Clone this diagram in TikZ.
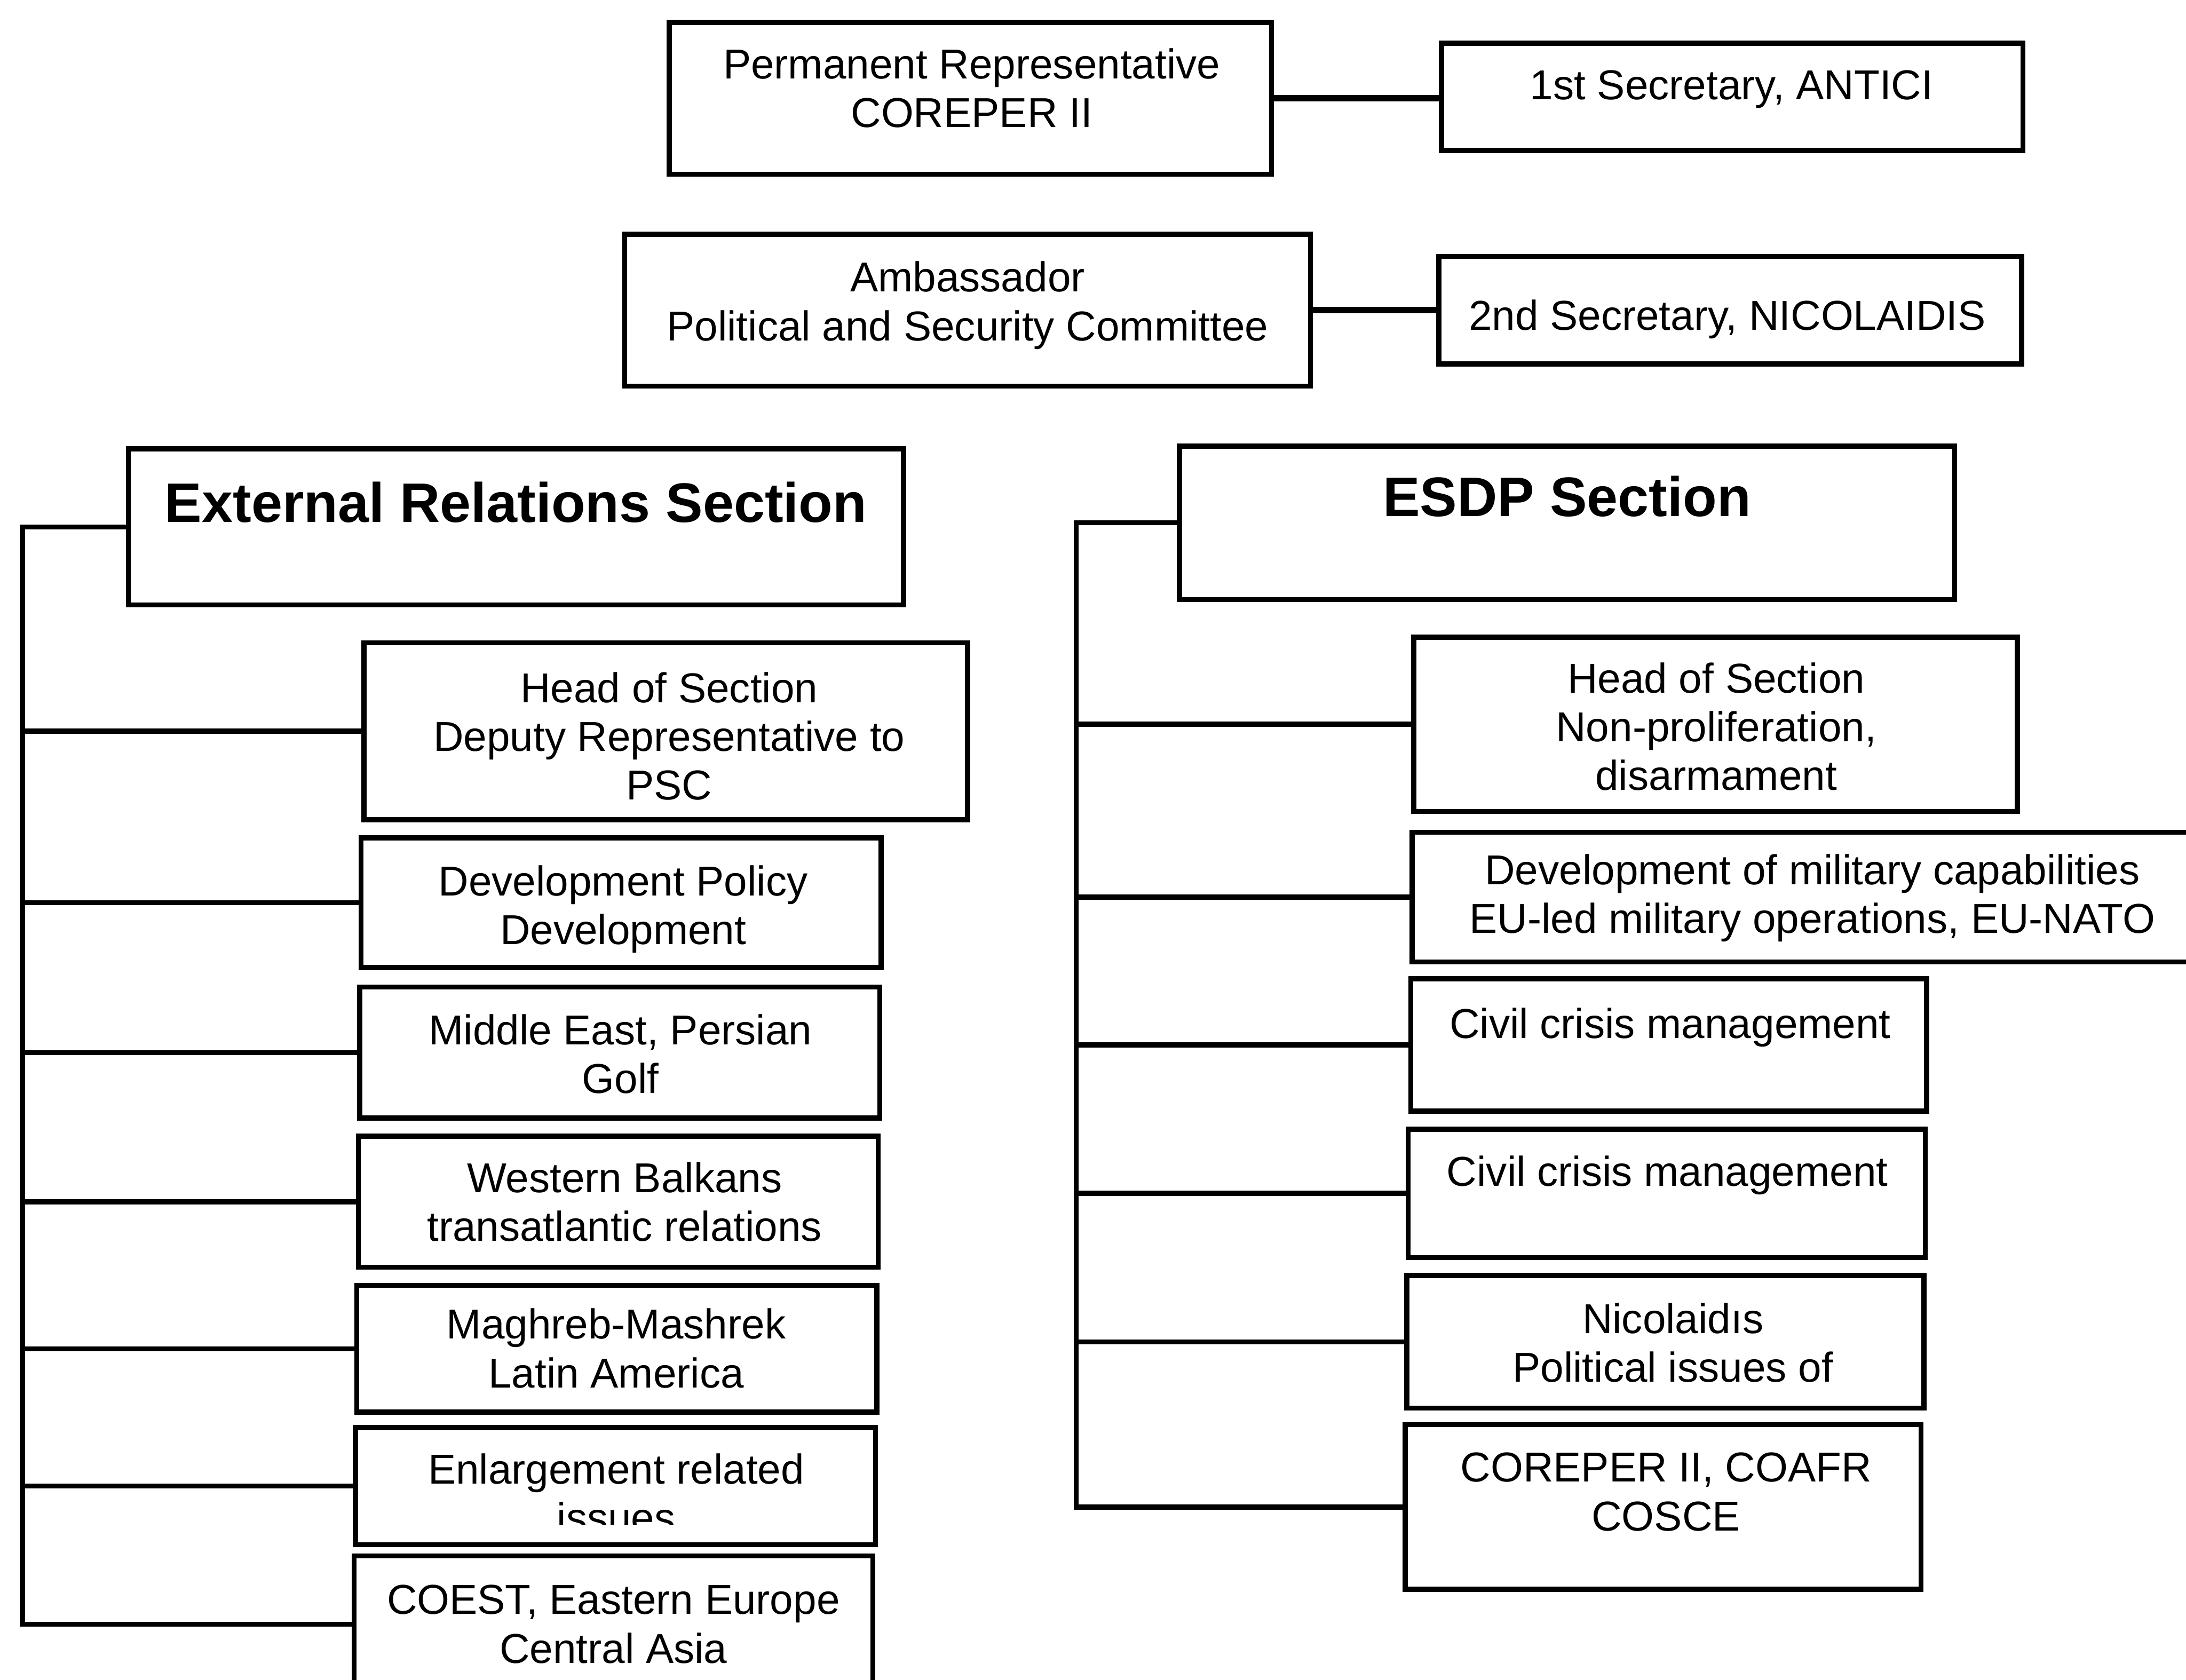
\documentclass[tikz,border=0pt]{standalone}
\usepackage{fontspec}
\setmainfont{Liberation Sans}
\usetikzlibrary{fit}
\begin{document}
\begin{tikzpicture}[x=0.2615mm,y=-0.2615mm,
  box/.style={draw, line width=0.95mm, inner sep=0pt, rectangle},
  txt/.style={align=center, inner sep=0pt, text depth=0pt, font=\fontsize{22.3}{26}\selectfont},
  head/.style={align=center, inner sep=0pt, text depth=0pt, font=\fontsize{29.7}{34}\selectfont\bfseries},
  conn/.style={line width=0.95mm, line cap=rect},
  topconn/.style={line width=1.2mm}]
\path[use as bounding box] (0,0) rectangle (1568,1205);
\clip (0,0) rectangle (1568,1205);

% top boxes
\node[box, fit={(480,16) (912,125)}] (pr) {};
\node[txt] (prt) at (697,63) {Permanent Representative\\COREPER II};
\node[box, fit={(1034,31) (1451,108)}] (s1) {};
\node[txt] (s1t) at (1242,61) {1st Secretary, ANTICI};
\node[box, fit={(448,168) (940,277)}] (amb) {};
\node[txt] (ambt) at (694,216) {Ambassador\\Political and Security Committee};
\node[box, fit={(1032,184) (1450,261)}] (s2) {};
\node[txt] (s2t) at (1239,226) {2nd Secretary, NICOLAIDIS};

% section heads
\node[box, fit={(92,322) (648,434)}] (ers) {};
\node[head] (erst) at (370,360) {External Relations Section};
\node[box, fit={(846,320) (1402,430)}] (esdp) {};
\node[head] (esdpt) at (1124,356) {ESDP Section};

% left column
\node[box, fit={(261,461) (694,588)}] (er1) {};
\node[txt] (er1t) at (480,528) {Head of Section\\Deputy Representative to\\PSC};
\node[box, fit={(259,601) (632,694)}] (er2) {};
\node[txt] (er2t) at (447,649) {Development Policy\\Development};
\node[box, fit={(258,708) (631,802)}] (er3) {};
\node[txt] (er3t) at (445,756) {Middle East, Persian\\Golf};
\node[box, fit={(257,815) (630,909)}] (er4) {};
\node[txt] (er4t) at (448,862) {Western Balkans\\transatlantic relations};
\node[box, fit={(256,922) (629,1013)}] (er5) {};
\node[txt] (er5t) at (442,967) {Maghreb-Mashrek\\Latin America};
\begin{scope}
\clip (255,1024) rectangle (628,1094);
\node[txt] (er6t) at (442,1071) {Enlargement related\\issues};
\end{scope}
\node[box, fit={(255,1024) (628,1108)}] (er6) {};
\node[box, fit={(254,1116) (626,1214)}] (er7) {};
\node[txt] (er7t) at (440,1165) {COEST, Eastern Europe\\Central Asia};

% right column
\node[box, fit={(1014,457) (1447,582)}] (es1) {};
\node[txt] (es1t) at (1231,521) {Head of Section\\Non-proliferation,\\disarmament};
\node[box, fit={(1013,597) (1580,690)}] (es2) {};
\node[txt] (es2t) at (1300,641) {Development of military capabilities\\EU-led military operations, EU-NATO};
\node[box, fit={(1012,702) (1382,797)}] (es3) {};
\node[txt] (es3t) at (1198,734) {Civil crisis management};
\node[box, fit={(1010,810) (1381,902)}] (es4) {};
\node[txt] (es4t) at (1196,840) {Civil crisis management};
\node[box, fit={(1009,915) (1380,1010)}] (es5) {};
\node[txt] (es5t) at (1200,963) {Nicolaidıs\\Political issues of};
\node[box, fit={(1008,1022) (1378,1140)}] (es6) {};
\node[txt] (es6t) at (1195,1070) {COREPER II, COAFR\\COSCE};

% connectors top
\draw[topconn] (pr.east) -- (pr.east -| s1.west);
\draw[topconn] (amb.east) -- (amb.east -| s2.west);

% trunks
\coordinate (erT) at (16,0);
\coordinate (esT) at (772,0);
\draw[conn] (ers.west) -- (ers.west -| erT) |- (er7.west);
\foreach \n in {er1,er2,er3,er4,er5,er6}
  \draw[conn] (\n.west) -- (\n.west -| erT);
\draw[conn] (esdp.west) -- (esdp.west -| esT) |- (es6.west);
\foreach \n in {es1,es2,es3,es4,es5}
  \draw[conn] (\n.west) -- (\n.west -| esT);
\end{tikzpicture}
\end{document}
